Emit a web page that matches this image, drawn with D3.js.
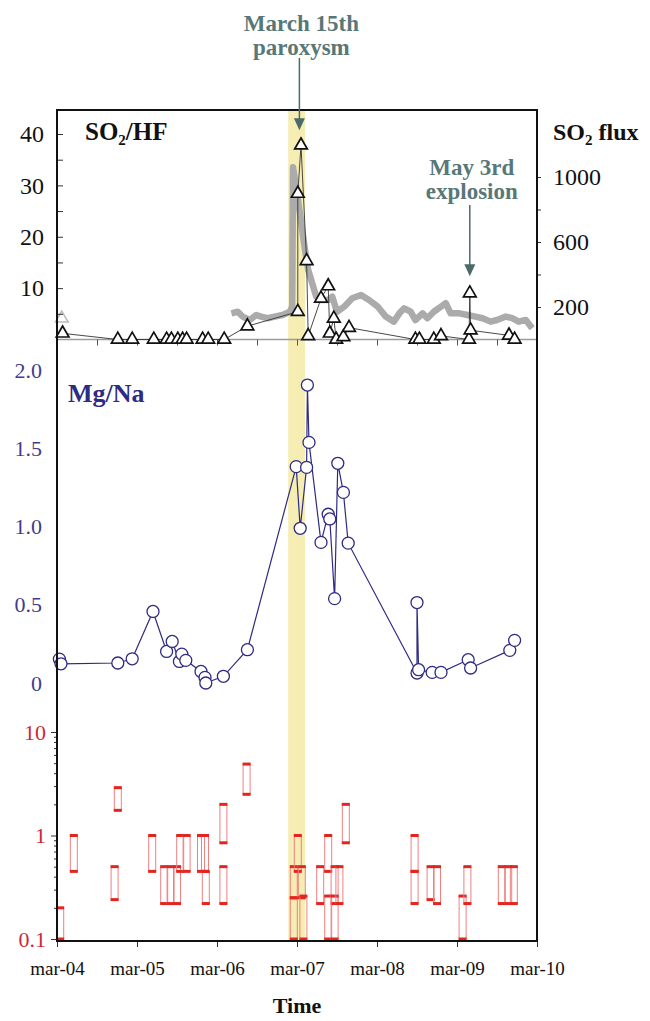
<!DOCTYPE html>
<html>
<head>
<meta charset="utf-8">
<script src="https://cdn.jsdelivr.net/npm/d3@7/dist/d3.min.js"></script>
<style>
body{margin:0;background:#fff;}
text{font-family:"Liberation Serif","Times New Roman",serif;}
</style>
</head>
<body>
<svg id="chart" width="650" height="1021"></svg>
<script>
// values, x is decimal year
var so2hfYears=[2004.24,2004.93,2005.11,2005.38,2005.54,2005.60,2005.68,2005.74,2005.79,2005.99,2006.06,2006.26,2006.55,2007.18,2007.18,2007.22,2007.29,2007.31,2007.47,2007.56,2007.58,2007.63,2007.66,2007.75,2007.82,2008.65,2008.70,2008.88,2008.97,2009.32,2009.33,2009.34,2009.82,2009.89]
var so2hfValues=[1.2,0,0,0,0,0,0,0,0,0,0,0,2.6,5.4,28.4,37.8,15.3,0.7,8.0,10.4,1.2,4.1,0,0.5,2.3,0,0,0,0.7,0,9.0,1.8,0.8,0]
var so2hfFaintYears=[2004.23]
var so2hfFaintValues=[4.1]

var fluxYears=[2006.35,2006.43,2006.49,2006.58,2006.66,2006.72,2006.80,2006.89,2006.99,2007.08,2007.11,2007.12,2007.17,2007.23,2007.27,2007.31,2007.36,2007.41,2007.47,2007.56,2007.61,2007.67,2007.76,2007.86,2007.97,2008.07,2008.18,2008.28,2008.38,2008.45,2008.51,2008.59,2008.65,2008.74,2008.80,2008.88,2008.97,2009.03,2009.09,2009.20,2009.30,2009.40,2009.49,2009.59,2009.67,2009.78,2009.86,2009.94,2010.03,2010.11]
var fluxValues=[161,171,141,120,151,141,131,141,151,171,202,1060,900,695,552,428,346,264,243,243,264,171,202,254,274,243,202,141,110,161,192,171,120,161,131,171,202,223,161,161,151,141,131,110,120,141,131,110,120,69]

var mgnaYears=[2004.20,2004.22,2004.93,2005.11,2005.37,2005.54,2005.61,2005.70,2005.73,2005.78,2005.97,2006.02,2006.03,2006.25,2006.55,2007.16,2007.21,2007.29,2007.30,2007.32,2007.47,2007.56,2007.58,2007.64,2007.68,2007.75,2007.81,2008.67,2008.67,2008.69,2008.86,2008.97,2009.31,2009.34,2009.83,2009.89]
var mgnaValues=[0.153,0.123,0.128,0.155,0.458,0.202,0.266,0.138,0.185,0.145,0.074,0.036,0.0,0.043,0.213,1.385,0.99,1.38,1.907,1.54,0.90,1.08,1.05,0.54,1.406,1.22,0.895,0.064,0.515,0.085,0.068,0.068,0.149,0.096,0.209,0.273]

var rangeYears=[2004.21,2004.38,2004.89,2004.93,2005.36,2005.51,2005.59,2005.67,2005.71,2005.79,2005.97,2006.02,2006.03,2006.25,2006.25,2006.54,2007.13,2007.13,2007.18,2007.23,2007.25,2007.46,2007.56,2007.56,2007.64,2007.64,2007.70,2007.78,2008.64,2008.64,2008.84,2008.92,2009.24,2009.30,2009.73,2009.81,2009.88]
var rangeLow=[0.1,0.45,0.24,1.75,0.45,0.22,0.22,0.22,0.45,0.45,0.45,0.45,0.22,0.85,0.22,2.5,0.25,0.1,0.45,0.25,0.1,0.22,0.45,0.1,0.22,0.1,0.22,0.85,0.45,0.22,0.24,0.22,0.1,0.22,0.22,0.22,0.22]
var rangeHigh=[0.2,1,0.5,2.9,1,0.5,0.5,0.5,1,1,1,1,0.45,2,0.5,4.9,0.5,0.25,1,0.5,0.26,0.5,1,0.26,0.5,0.26,0.5,2,1,0.45,0.5,0.5,0.26,0.5,0.5,0.5,0.5]

var yearTicks=[2004.17,2005.17,2006.17,2007.17,2008.17,2009.17,2010.17]
var yearLabels=['mar-04','mar-05','mar-06','mar-07','mar-08','mar-09','mar-10']
var halfYearTicks=[2004.67,2005.17,2005.67,2006.17,2006.67,2007.17,2007.67,2008.17,2008.67,2009.17,2009.67]
var paroxysmBand=[2007.06,2007.27]
var paroxysmYear=2007.20
var explosionYear=2009.33

var so2Ticks=[5,10,15,20,25,30,35,40]
var fluxTicks=[200,400,600,800,1000]
var mgTicks=[0,0.5,1,1.5,2]
var logMajor=[0.1,1,10]
var logMinor=[0.2,0.3,0.4,0.5,0.6,0.7,0.8,0.9,2,3,4,5,6,7,8,9]

var box={l:57,r:537,t:110,b:941}
var annoColor='#587878'
var mgColor='#2e2b82'
var redText='#cc2a3a'

var svg=d3.select('#chart')

var x=d3.scaleLinear().domain([2004.17,2010.17]).range([box.l,box.r])
var yTop=d3.scaleLinear().domain([0,40]).range([339.5,134])
var yFlux=d3.scaleLinear().domain([0,1000]).range([339.5,177])
var yMg=d3.scaleLinear().domain([0,2]).range([683,370.5])
var yLog=d3.scaleLog().domain([0.1,10]).range([939,732])

// paroxysm band
svg.append('rect')
    .attr('x',x(paroxysmBand[0]))
    .attr('y',box.t)
    .attr('width',x(paroxysmBand[1])-x(paroxysmBand[0]))
    .attr('height',box.b-box.t)
    .attr('fill','#f6edb3')

// top panel baseline + half year ticks
svg.append('line')
    .attr('x1',box.l).attr('x2',box.r)
    .attr('y1',yTop(0)).attr('y2',yTop(0))
    .attr('stroke','#9c9c9c').attr('stroke-width',1.5)
var topX=svg.append('g')
    .attr('transform',`translate(0,${yTop(0)})`)
    .call(d3.axisBottom(x).tickValues(halfYearTicks).tickSize(6).tickFormat(''))
topX.select('.domain').remove()
topX.selectAll('line').attr('stroke','#555')

// SO2 flux (grey band)
var fluxData=fluxYears.map((d,i)=>[d,fluxValues[i]])
svg.append('path')
    .datum(fluxData)
    .attr('d',d3.line().x(d=>x(d[0])).y(d=>yFlux(d[1])))
    .attr('fill','none')
    .attr('stroke','#ababab')
    .attr('stroke-width',6.5)
    .attr('stroke-linejoin','round')

// SO2/HF
var so2Data=so2hfYears.map((d,i)=>[d,so2hfValues[i]])
svg.append('path')
    .datum(so2Data)
    .attr('d',d3.line().x(d=>x(d[0])).y(d=>yTop(d[1])))
    .attr('fill','none')
    .attr('stroke','#333')
    .attr('stroke-width',0.9)
var tri=d3.symbol().type(d3.symbolTriangle).size(70)
svg.selectAll('.faint')
    .data(so2hfFaintYears.map((d,i)=>[d,so2hfFaintValues[i]]))
    .enter().append('path')
    .attr('d',tri)
    .attr('transform',d=>`translate(${x(d[0])},${yTop(d[1])})`)
    .attr('fill','#fff').attr('stroke','#bbb').attr('stroke-width',1.5)
svg.selectAll('.tri')
    .data(so2Data)
    .enter().append('path')
    .attr('d',tri)
    .attr('transform',d=>`translate(${x(d[0])},${yTop(d[1])})`)
    .attr('fill','#fff').attr('stroke','#111').attr('stroke-width',1.7)

// Mg/Na
var mgData=mgnaYears.map((d,i)=>[d,mgnaValues[i]])
svg.append('path')
    .datum(mgData)
    .attr('d',d3.line().x(d=>x(d[0])).y(d=>yMg(d[1])))
    .attr('fill','none')
    .attr('stroke',mgColor)
    .attr('stroke-width',1.2)
svg.selectAll('.circ')
    .data(mgData)
    .enter().append('circle')
    .attr('cx',d=>x(d[0]))
    .attr('cy',d=>yMg(d[1]))
    .attr('r',6)
    .attr('fill','#fff').attr('stroke',mgColor).attr('stroke-width',1.3)

// ranges (log panel)
var rangeData=rangeYears.map((d,i)=>({x:d,lo:rangeLow[i],hi:rangeHigh[i]}))
var rg=svg.selectAll('.rng').data(rangeData).enter().append('g')
rg.append('rect')
    .attr('x',d=>x(d.x)-3.5)
    .attr('y',d=>yLog(d.hi))
    .attr('width',7)
    .attr('height',d=>yLog(d.lo)-yLog(d.hi))
    .attr('fill','none').attr('stroke','#ee8080').attr('stroke-width',1)
rg.append('line')
    .attr('x1',d=>x(d.x)-4).attr('x2',d=>x(d.x)+4)
    .attr('y1',d=>yLog(d.hi)).attr('y2',d=>yLog(d.hi))
    .attr('stroke','#e3241f').attr('stroke-width',3)
rg.append('line')
    .attr('x1',d=>x(d.x)-4).attr('x2',d=>x(d.x)+4)
    .attr('y1',d=>yLog(d.lo)).attr('y2',d=>yLog(d.lo))
    .attr('stroke','#e3241f').attr('stroke-width',3)

// axes
function styleAxis(g,color,size){
    g.select('.domain').remove()
    g.selectAll('text').attr('fill',color).style('font-size',size+'px')
    g.selectAll('line').attr('stroke','#333')
}
var ax1=svg.append('g').attr('transform',`translate(${box.l},0)`)
    .call(d3.axisLeft(yTop).tickValues(so2Ticks).tickSize(-6).tickPadding(13)
        .tickFormat(d=>d%10==0?d:''))
styleAxis(ax1,'#111',24)
var ax2=svg.append('g').attr('transform',`translate(${box.r},0)`)
    .call(d3.axisRight(yFlux).tickValues(fluxTicks).tickSize(4).tickPadding(12)
        .tickFormat(d=>(d%400==200)?d:''))
styleAxis(ax2,'#111',24)
var ax3=svg.append('g').attr('transform',`translate(${box.l},0)`)
    .call(d3.axisLeft(yMg).tickValues(mgTicks).tickSize(0).tickPadding(15)
        .tickFormat(d=>d==0?'0':d3.format('.1f')(d)))
styleAxis(ax3,'#3f3c8e',22)
var ax4=svg.append('g').attr('transform',`translate(${box.l},0)`)
    .call(d3.axisLeft(yLog).tickValues(logMinor).tickSize(3).tickFormat(''))
styleAxis(ax4,redText,22)
var ax5=svg.append('g').attr('transform',`translate(${box.l},0)`)
    .call(d3.axisLeft(yLog).tickValues(logMajor).tickSize(6).tickPadding(5)
        .tickFormat(d=>d<1?'0.1':d3.format('d')(d)))
styleAxis(ax5,redText,22)
var ax6=svg.append('g').attr('transform',`translate(0,${box.b})`)
    .call(d3.axisBottom(x).tickValues(yearTicks).tickSize(6).tickPadding(15)
        .tickFormat((d,i)=>yearLabels[i]))
styleAxis(ax6,'#111',19)

// frame
svg.append('rect')
    .attr('x',box.l).attr('y',box.t)
    .attr('width',box.r-box.l).attr('height',box.b-box.t)
    .attr('fill','none').attr('stroke','#111').attr('stroke-width',2)

// panel titles
var t1=svg.append('text').attr('x',85).attr('y',140)
    .attr('font-weight','bold').style('font-size','25px').attr('fill','#111')
t1.append('tspan').text('SO')
t1.append('tspan').text('2').style('font-size','15px').attr('dy',5)
t1.append('tspan').text('/HF').attr('dy',-5)
var t2=svg.append('text').attr('x',553).attr('y',140)
    .attr('font-weight','bold').style('font-size','24px').attr('fill','#111')
t2.append('tspan').text('SO')
t2.append('tspan').text('2').style('font-size','15px').attr('dy',5)
t2.append('tspan').text(' flux').attr('dy',-5)
svg.append('text').attr('x',68).attr('y',402)
    .attr('font-weight','bold').style('font-size','26px').attr('fill',mgColor)
    .text('Mg/Na')
svg.append('text').attr('x',x(2007.17)).attr('y',1013)
    .attr('text-anchor','middle')
    .attr('font-weight','bold').style('font-size','22px').attr('fill','#111')
    .text('Time')

// annotations
function annotate(yr,lines,baseY,y1,y2){
    var ax=x(yr)
    lines.forEach(function(s,i){
        svg.append('text').attr('x',ax+2).attr('y',baseY+i*24)
            .attr('text-anchor','middle')
            .attr('font-weight','bold').style('font-size','23px')
            .attr('fill',annoColor).text(s)
    })
    svg.append('line').attr('x1',ax).attr('x2',ax)
        .attr('y1',y1).attr('y2',y2-8)
        .attr('stroke','#4c6a6a').attr('stroke-width',1.5)
    svg.append('path')
        .attr('d',`M${ax-5.5},${y2-12}L${ax+5.5},${y2-12}L${ax},${y2}Z`)
        .attr('fill','#4c6a6a')
}
annotate(paroxysmYear,['March 15th','paroxysm'],31,58,yTop(37.8)-15)
annotate(explosionYear,['May 3rd','explosion'],175,205,yTop(9.0)-17)
</script>
</body>
</html>
